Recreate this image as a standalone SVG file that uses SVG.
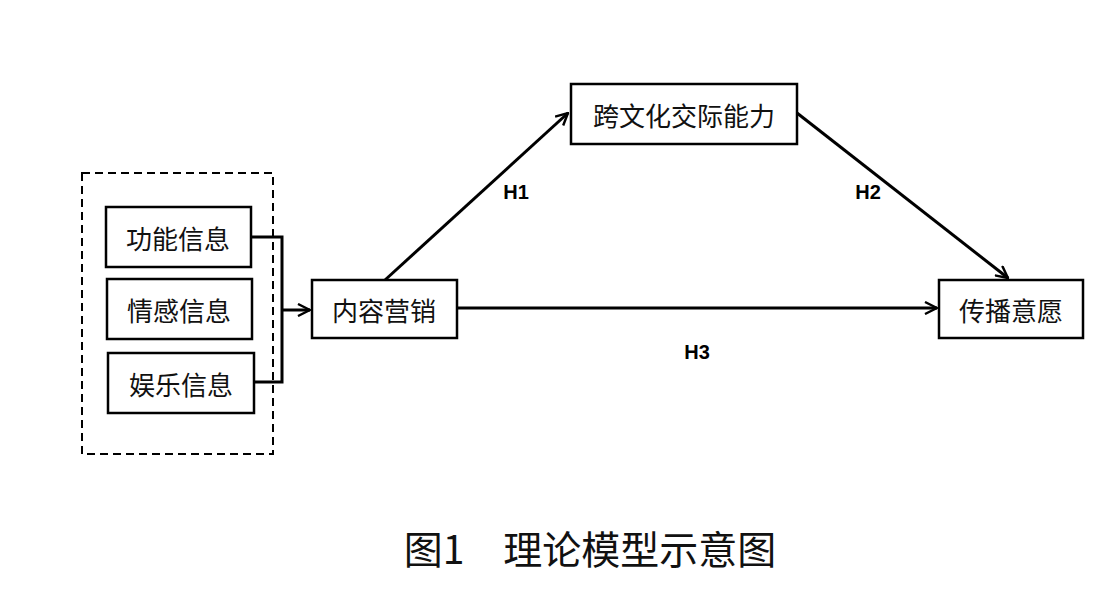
<svg xmlns="http://www.w3.org/2000/svg" width="1110" height="605" viewBox="0 0 1110 605">
<style>
.box{fill:#fff;stroke:#000;stroke-width:2.5}
.t{font-family:"Noto Sans CJK SC","Liberation Sans",sans-serif;font-size:26px;fill:#111;text-anchor:middle;dominant-baseline:central}
.h{font-family:"Liberation Sans","DejaVu Sans",sans-serif;font-size:20px;font-weight:bold;fill:#000;text-anchor:middle;dominant-baseline:central}
.c{fill:none;stroke:#000;stroke-width:3}
</style>
<defs>
<marker id="arr" viewBox="0 0 14 14" refX="13" refY="7" markerWidth="14" markerHeight="14" markerUnits="userSpaceOnUse" orient="auto">
<path d="M1,1 L13,7 L1,13" fill="none" stroke="#000" stroke-width="2.4"/>
</marker>
</defs>
<rect width="1110" height="605" fill="#fff"/>
<g id="group-dashed">
<rect x="82" y="173" width="191" height="281" fill="none" stroke="#000" stroke-width="2" stroke-dasharray="8,5"/>
</g>
<g id="connectors">
<polyline class="c" points="251,237 282,237 282,382 254,382"/>
<line class="c" x1="282" y1="310" x2="310" y2="310" marker-end="url(#arr)"/>
<line class="c" x1="385" y1="280" x2="568" y2="113" marker-end="url(#arr)"/>
<line class="c" x1="797" y1="113" x2="1008" y2="278" marker-end="url(#arr)"/>
<line class="c" x1="457" y1="308" x2="937" y2="308" marker-end="url(#arr)"/>
</g>
<g id="n1"><rect class="box" x="106" y="207" width="145" height="60"/><text class="t" x="178" y="237">功能信息</text></g>
<g id="n2"><rect class="box" x="107" y="279" width="145" height="60"/><text class="t" x="179" y="309">情感信息</text></g>
<g id="n3"><rect class="box" x="108" y="353" width="146" height="60"/><text class="t" x="181" y="383">娱乐信息</text></g>
<g id="n4"><rect class="box" x="312" y="280" width="145" height="58"/><text class="t" x="384" y="309">内容营销</text></g>
<g id="n5"><rect class="box" x="571" y="84" width="226" height="60"/><text class="t" x="684" y="114">跨文化交际能力</text></g>
<g id="n6"><rect class="box" x="939" y="280" width="144" height="58"/><text class="t" x="1011" y="309">传播意愿</text></g>
<g id="labels">
<text class="h" x="516" y="192">H1</text>
<text class="h" x="868" y="192">H2</text>
<text class="h" x="697" y="352">H3</text>
</g>
<text x="590" y="547" font-family="'Noto Sans CJK SC','Liberation Sans',sans-serif" font-size="39" fill="#111" text-anchor="middle" dominant-baseline="central" xml:space="preserve">图1　理论模型示意图</text>
</svg>
